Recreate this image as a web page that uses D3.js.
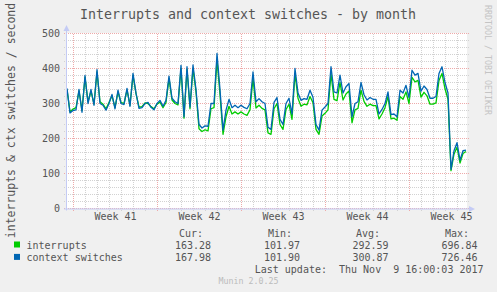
<!DOCTYPE html>
<html>
<head>
<meta charset="utf-8">
<script src="https://cdn.jsdelivr.net/npm/d3@7"></script>
<style>
    body { margin: 0; background: #f0f0f0; }
    svg text { font-family: "DejaVu Sans Mono", monospace; fill: #555; }
</style>
</head>
<body>
<div id="chart"></div>
<script>
const stepHours = 6;
const startTime = new Date(Date.UTC(2017, 9, 7, 11));
const endTime = new Date(Date.UTC(2017, 10, 9, 19));

const interrupts = [340,276,284,288,336,280,375,305,335,298,
    390,305,298,285,303,322,288,333,303,300,
    338,295,380,328,290,291,302,300,291,285,
    298,304,288,303,372,310,300,296,400,258,
    398,285,400,333,228,220,225,222,285,288,
    425,325,212,262,292,270,276,270,276,270,
    266,282,372,287,295,286,282,216,212,285,
    300,240,226,283,298,255,385,315,292,298,
    296,320,302,226,212,264,272,282,385,312,
    308,360,310,327,336,245,282,286,338,306,
    292,298,294,294,256,270,288,320,256,258,
    252,320,312,333,300,375,362,366,318,332,
    322,298,298,302,366,386,342,312,108,155,
    175,130,157,163];

const contextSwitches = [343,273,280,282,340,275,380,300,340,295,
    397,300,295,281,300,326,285,338,300,297,
    343,292,386,330,286,288,300,303,289,282,
    300,309,292,309,378,315,305,300,409,262,
    405,290,410,340,240,230,236,235,300,300,
    443,340,224,281,312,288,295,288,295,289,
    285,300,390,305,314,305,300,232,226,303,
    317,255,240,300,315,270,400,330,309,314,
    312,338,318,240,224,281,290,300,405,333,
    330,381,330,348,357,262,300,305,360,325,
    310,317,312,312,270,283,300,333,268,270,
    262,338,330,352,317,395,381,386,335,350,
    340,315,315,320,386,405,360,330,112,165,
    188,138,165,167];

const yTicks = [0, 100, 200, 300, 400, 500];
const weekLabels = ["Week 41", "Week 42", "Week 43", "Week 44", "Week 45"];
const seriesNames = ["interrupts", "context switches"];
const statHeaders = ["Cur:", "Min:", "Avg:", "Max:"];
const interruptStats = ["163.28", "101.97", "292.59", "696.84"];
const contextStats = ["167.98", "101.90", "300.87", "726.46"];

const colors = ["#00cc00", "#0066b3"];

const width = 497, height = 292;
const plotLeft = 67, plotRight = 467, plotTop = 33.5, plotBottom = 208.5;

const svg = d3.select("#chart")
    .append("svg")
    .attr("width", width)
    .attr("height", height)
    .style("display", "block");

svg.append("rect")
    .attr("width", width)
    .attr("height", height)
    .attr("fill", "#f0f0f0");

// white canvas
svg.append("rect")
    .attr("x", plotLeft)
    .attr("y", plotTop - 0.5)
    .attr("width", plotRight - plotLeft)
    .attr("height", plotBottom - plotTop + 0.5)
    .attr("fill", "#fff");

const xScale = d3.scaleUtc().domain([startTime, endTime]).range([plotLeft, plotRight]);
const yScale = d3.scaleLinear().domain([0, 500]).range([plotBottom, plotTop]);

const times = interrupts.map((d, i) => d3.utcHour.offset(startTime, i * stepHours));

// grid
const grid = svg.append("g").attr("shape-rendering", "crispEdges");
const minorColor = "#d2d2d2";
const majorColor = "#eeaaaa";

const minorY = d3.range(0, 501, 20).filter(v => !yTicks.includes(v));
grid.selectAll(".hminor")
    .data(minorY)
    .join("line")
    .attr("x1", plotLeft - 3).attr("x2", plotRight + 2)
    .attr("y1", d => Math.floor(yScale(d)) + 0.5)
    .attr("y2", d => Math.floor(yScale(d)) + 0.5)
    .attr("stroke", minorColor)
    .attr("stroke-dasharray", "1,1");

const weekStarts = d3.utcSunday.range(startTime, endTime);
const days = d3.utcDay.range(startTime, endTime).filter(d => d.getUTCDay() !== 0);

grid.selectAll(".vminor")
    .data(days)
    .join("line")
    .attr("x1", d => Math.floor(xScale(d)) + 0.5)
    .attr("x2", d => Math.floor(xScale(d)) + 0.5)
    .attr("y1", plotTop).attr("y2", plotBottom + 3)
    .attr("stroke", minorColor)
    .attr("stroke-dasharray", "1,1");

grid.selectAll(".hmajor")
    .data(yTicks)
    .join("line")
    .attr("x1", plotLeft - 3).attr("x2", plotRight + 2)
    .attr("y1", d => Math.floor(yScale(d)) + 0.5)
    .attr("y2", d => Math.floor(yScale(d)) + 0.5)
    .attr("stroke", majorColor)
    .attr("stroke-dasharray", "1,1");

grid.selectAll(".vmajor")
    .data(weekStarts)
    .join("line")
    .attr("x1", d => Math.floor(xScale(d)) + 0.5)
    .attr("x2", d => Math.floor(xScale(d)) + 0.5)
    .attr("y1", plotTop).attr("y2", plotBottom + 3)
    .attr("stroke", majorColor)
    .attr("stroke-dasharray", "1,1");

// series lines
svg.append("clipPath").attr("id", "clip")
    .append("rect")
    .attr("x", plotLeft).attr("y", plotTop - 1)
    .attr("width", plotRight - plotLeft).attr("height", plotBottom - plotTop + 1);

const line = d3.line()
    .x((d, i) => xScale(times[i]))
    .y(d => yScale(d));

[interrupts, contextSwitches].forEach((series, k) => {
    svg.append("path")
        .datum(series)
        .attr("clip-path", "url(#clip)")
        .attr("fill", "none")
        .attr("stroke", colors[k])
        .attr("stroke-width", 1.3)
        .attr("stroke-linejoin", "round")
        .attr("d", line);
});

// axes with arrows
const axisColor = "#c4cbf5";
svg.append("line")
    .attr("x1", plotLeft - 0.5).attr("x2", plotLeft - 0.5)
    .attr("y1", plotBottom + 2).attr("y2", 29)
    .attr("stroke", axisColor);
svg.append("path")
    .attr("d", `M${plotLeft - 3.5},31 L${plotLeft - 0.5},25 L${plotLeft + 2.5},31 Z`)
    .attr("fill", axisColor);
svg.append("line")
    .attr("x1", plotLeft - 3).attr("x2", plotRight + 4)
    .attr("y1", plotBottom + 0.5).attr("y2", plotBottom + 0.5)
    .attr("stroke", axisColor);
svg.append("path")
    .attr("d", `M${plotRight + 2},${plotBottom - 2.5} L${plotRight + 8},${plotBottom + 0.5} L${plotRight + 2},${plotBottom + 3.5} Z`)
    .attr("fill", axisColor);

// y tick labels
svg.selectAll(".ylabel")
    .data(yTicks)
    .join("text")
    .attr("x", 60)
    .attr("y", d => yScale(d))
    .attr("dy", "0.36em")
    .attr("text-anchor", "end")
    .style("font-size", "10px")
    .text(d => d);

// x week labels, centred in each week
svg.selectAll(".xlabel")
    .data(weekStarts)
    .join("text")
    .attr("x", d => xScale(d3.utcHour.offset(d, 84)))
    .attr("y", 220)
    .attr("text-anchor", "middle")
    .style("font-size", "10px")
    .text((d, i) => weekLabels[i]);

// title
svg.append("text")
    .attr("x", 248)
    .attr("y", 18.5)
    .attr("text-anchor", "middle")
    .style("font-size", "13.3px")
    .text("Interrupts and context switches - by month");

// vertical unit label
svg.append("text")
    .attr("transform", "translate(15,120.5) rotate(-90)")
    .attr("text-anchor", "middle")
    .style("font-size", "11.5px")
    .text("interrupts & ctx switches / second");

// watermark at the right
svg.append("text")
    .attr("transform", "translate(485,5) rotate(90)")
    .style("font-size", "8.3px")
    .style("fill", "#c4c4c4")
    .text("RRDTOOL / TOBI OETIKER");

// legend
const legend = svg.append("g").style("font-size", "10px");
const statX = [203, 292, 380, 469];
const valX = [211, 300, 388.5, 477.5];

legend.selectAll(".hdr")
    .data(statHeaders)
    .join("text")
    .attr("x", (d, i) => statX[i])
    .attr("y", 237)
    .attr("text-anchor", "end")
    .text(d => d);

[interruptStats, contextStats].forEach((stats, k) => {
    const yRow = 248.5 + k * 12.3;
    legend.append("rect")
        .attr("x", 14).attr("y", 241.5 + k * 12.4)
        .attr("width", 6).attr("height", 6)
        .attr("fill", colors[k]);
    legend.append("text")
        .attr("x", 26.5).attr("y", yRow)
        .text(seriesNames[k]);
    legend.selectAll(".v" + k)
        .data(stats)
        .join("text")
        .attr("x", (d, i) => valX[i])
        .attr("y", yRow)
        .attr("text-anchor", "end")
        .text(d => d);
});

legend.append("text")
    .attr("x", 483.5)
    .attr("y", 273)
    .attr("text-anchor", "end")
    .style("white-space", "pre")
    .text("Last update:  Thu Nov  9 16:00:03 2017");

svg.append("text")
    .attr("x", 248.5)
    .attr("y", 284)
    .attr("text-anchor", "middle")
    .style("font-size", "8.3px")
    .style("fill", "#bbb")
    .text("Munin 2.0.25");
</script>
</body>
</html>
